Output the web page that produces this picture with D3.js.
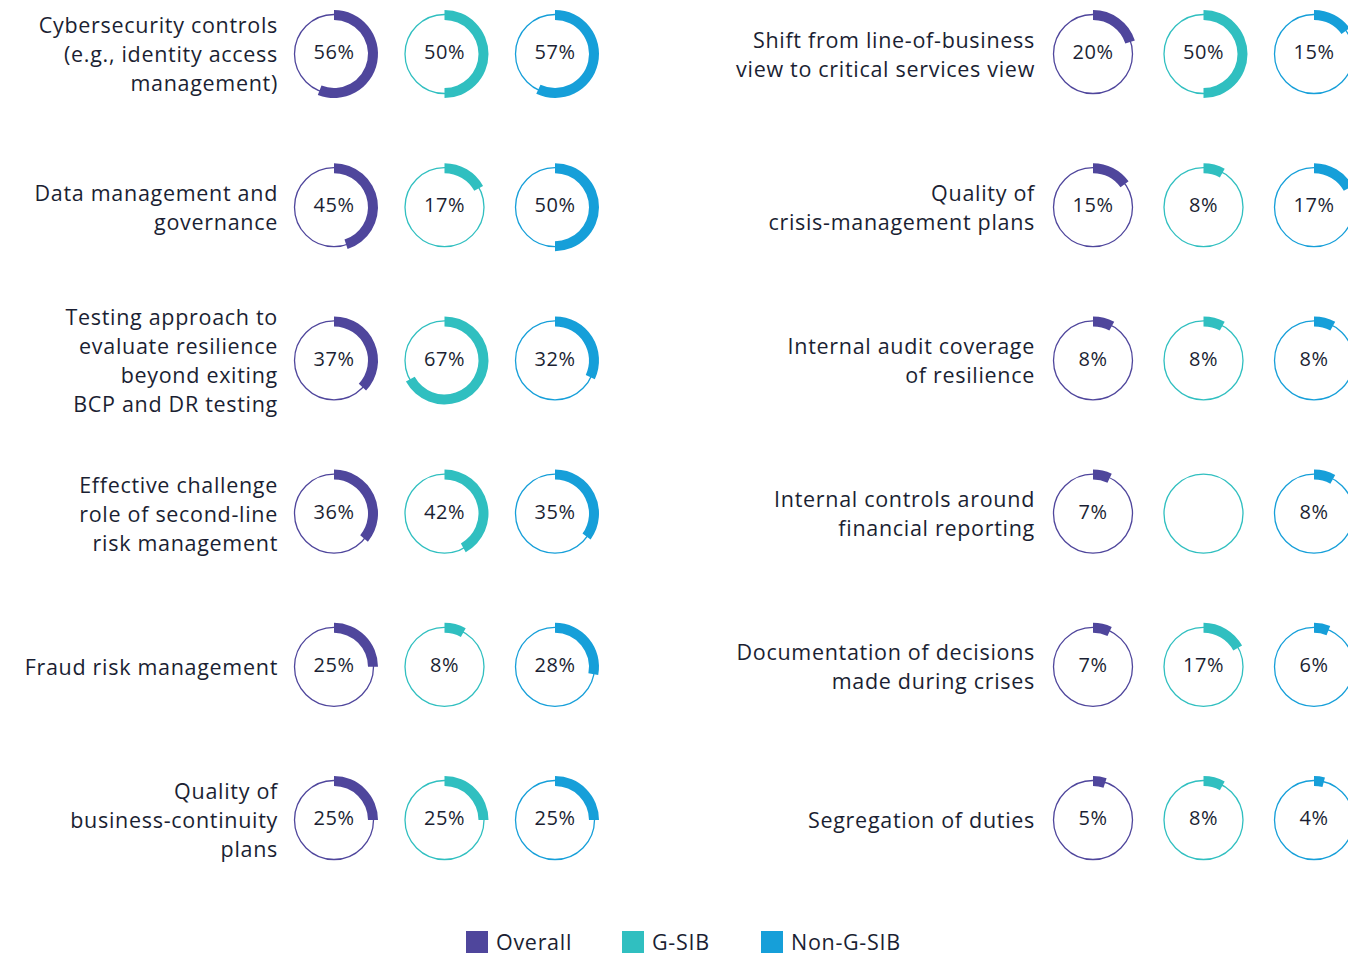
<!doctype html>
<html lang="en">
<head>
<meta charset="utf-8">
<script src="https://d3js.org/d3.v7.min.js"></script>
<style>
  body { margin: 0; background: #fff; }
  svg text { font-family: "Open Sans", Lato, sans-serif; fill: #1b1f33; }
  .lbl { font-size: 21.5px; letter-spacing: 0.7px; }
  .val { font-size: 20px; letter-spacing: 0.5px; }
</style>
</head>
<body>
<svg width="1348" height="956"></svg>
<script>
// series
const series = ["Overall", "G-SIB", "Non-G-SIB"];
const colors = ["#4f469c", "#30bfc0", "#169fd9"];

// left panel
const leftLabels = [
  ["Cybersecurity controls", "(e.g., identity access", "management)"],
  ["Data management and", "governance"],
  ["Testing approach to", "evaluate resilience", "beyond exiting", "BCP and DR testing"],
  ["Effective challenge", "role of second-line", "risk management"],
  ["Fraud risk management"],
  ["Quality of", "business-continuity", "plans"]
];
const leftOverall = [56, 45, 37, 36, 25, 25];
const leftGsib    = [50, 17, 67, 42, 8, 25];
const leftNonGsib = [57, 50, 32, 35, 28, 25];

// right panel
const rightLabels = [
  ["Shift from line-of-business", "view to critical services view"],
  ["Quality of", "crisis-management plans"],
  ["Internal audit coverage", "of resilience"],
  ["Internal controls around", "financial reporting"],
  ["Documentation of decisions", "made during crises"],
  ["Segregation of duties"]
];
const rightOverall = [20, 15, 8, 7, 7, 5];
const rightGsib    = [50, 8, 8, 0, 17, 8];
const rightNonGsib = [15, 17, 8, 8, 6, 4];

const svg = d3.select("svg");

const y = d3.scalePoint().domain(d3.range(6)).range([54, 820]);
const pct = d3.scaleLinear().domain([0, 100]).range([0, 2 * Math.PI]);
const arc = d3.arc().innerRadius(34).outerRadius(44).startAngle(0);

function panel(labels, vals, x0, labelX) {
  const x = d3.scalePoint().domain(series).range([x0, x0 + 221]);
  const g = svg.append("g");
  labels.forEach(function(lines, i) {
    const cy = y(i);
    const t = g.append("text")
      .attr("class", "lbl")
      .attr("x", labelX)
      .attr("y", cy - (lines.length - 1) * 29 / 2)
      .attr("text-anchor", "end");
    lines.forEach(function(l, j) {
      t.append("tspan").attr("x", labelX).attr("dy", j == 0 ? "0.38em" : 29).text(l);
    });
    series.forEach(function(s, k) {
      const v = vals[k][i];
      const cx = x(s);
      const d = g.append("g").attr("transform", "translate(" + cx + "," + cy + ")");
      d.append("circle").attr("r", 39.5).attr("fill", "none")
        .attr("stroke", colors[k]).attr("stroke-width", 1.3);
      if (v > 0) {
        d.append("path").attr("fill", colors[k]).attr("d", arc.endAngle(pct(v))());
        d.append("text").attr("class", "val").attr("y", -2).attr("dy", "0.36em")
          .attr("text-anchor", "middle").text(v + "%");
      }
    });
  });
}

panel(leftLabels, [leftOverall, leftGsib, leftNonGsib], 334, 278);
panel(rightLabels, [rightOverall, rightGsib, rightNonGsib], 1093, 1035);

// legend
const legendX = [466, 622, 761];
const lg = svg.append("g").attr("transform", "translate(0,931)");
series.forEach(function(s, k) {
  lg.append("rect").attr("x", legendX[k]).attr("y", 0).attr("width", 22).attr("height", 22)
    .attr("fill", colors[k]);
  lg.append("text").attr("class", "lbl").attr("x", legendX[k] + 30).attr("y", 11).attr("dy", "0.36em")
    .text(s);
});
</script>
</body>
</html>
